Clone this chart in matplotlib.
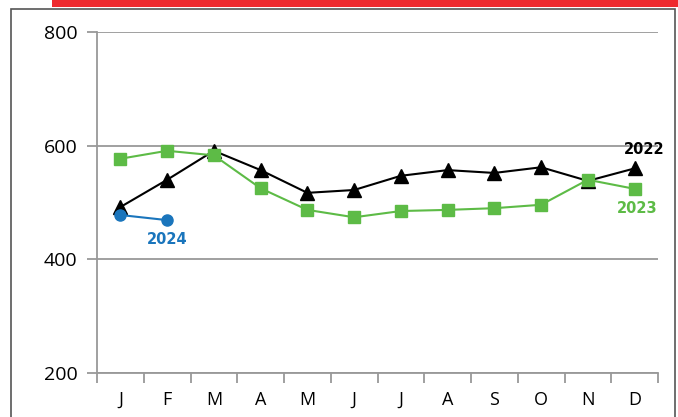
import numpy as np
import matplotlib.pyplot as plt
from matplotlib.patches import Rectangle

plt.rcParams['font.family'] = ['Open Sans', 'DejaVu Sans']

months = ['J', 'F', 'M', 'A', 'M', 'J', 'J', 'A', 'S', 'O', 'N', 'D']
y2022 = [492, 540, 591, 557, 517, 522, 547, 557, 552, 562, 538, 560]
y2023 = [577, 591, 583, 525, 487, 474, 485, 487, 490, 496, 540, 524]
y2024 = [478, 469]

W, H = 678, 417
fig = plt.figure(figsize=(W / 100, H / 100), dpi=100)

# frame and red header bar
fig.patches.append(Rectangle((11 / W, -0.1), (675 - 11) / W, 1.1 - 9 / H,
                             transform=fig.transFigure, fill=False,
                             edgecolor='#555555', linewidth=1.2))
fig.patches.append(Rectangle((52 / W, 1 - 7 / H), (678 - 52) / W, 7 / H,
                             transform=fig.transFigure, facecolor='#EE2A2E',
                             edgecolor='none'))

ax = fig.add_axes([97 / W, 1 - 373 / H, (658 - 97) / W, (373 - 32) / H])
x = np.arange(len(months))

ax.plot(x, y2022, color='black', linewidth=1.5, marker='^', markersize=10, zorder=3)
ax.plot(x, y2023, color='#5DBB46', linewidth=1.5, marker='s', markersize=9, zorder=4)
ax.plot(x[:len(y2024)], y2024, color='#1A75BC', linewidth=1.5, marker='o',
        markersize=8, zorder=5)

ax.set_xlim(-0.5, 11.5)
ax.set_ylim(200, 800)
ax.set_yticks([200, 400, 600, 800])
ax.yaxis.grid(True, color='#999999', linewidth=1.3)
ax.set_axisbelow(True)

ax.set_xticks(x)
ax.set_xticklabels(months)
ax.set_xticks(np.arange(-0.5, 12, 1), minor=True)
ax.tick_params(axis='x', which='major', length=0, pad=13, labelsize=13)
ax.tick_params(axis='x', which='minor', length=7, color='#999999', width=1.3)
ax.tick_params(axis='y', length=7, color='#999999', width=1.3, labelsize=14, pad=7)

for s in ['top', 'right']:
    ax.spines[s].set_visible(False)
for s in ['left', 'bottom']:
    ax.spines[s].set_color('#999999')
    ax.spines[s].set_linewidth(1.3)

lbl = dict(fontsize=10.5, fontweight='bold', ha='center', va='center',
           family='DejaVu Sans')
ax.text(11.2, 593, '2022', color='black', **lbl)
ax.text(11.05, 490, '2023', color='#5DBB46', **lbl)
ax.text(1.0, 435, '2024', color='#1A75BC', **lbl)

fig.savefig('out.png', dpi=100)
